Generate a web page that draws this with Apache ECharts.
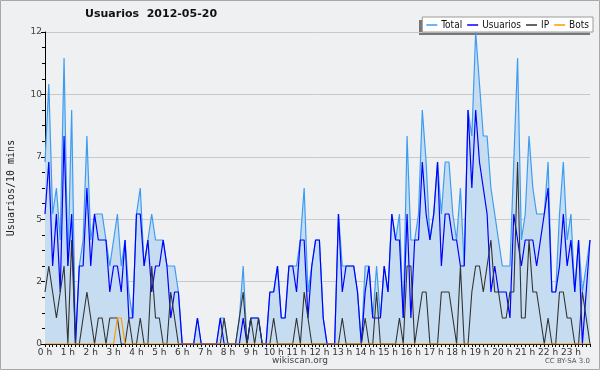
<!DOCTYPE html>
<html>
<head>
<meta charset="utf-8">
<script src="https://cdn.jsdelivr.net/npm/echarts@6/dist/echarts.min.js"></script>
<style>
html,body{margin:0;padding:0;background:#eff0f2;}
#chart{width:600px;height:370px;}
</style>
</head>
<body>
<div id="chart"></div>
<script>
// 10-minute slots, 2012-05-20
var hourLabels = ['0 h','1 h','2 h','3 h','4 h','5 h','6 h','7 h','8 h','9 h','10 h','11 h','12 h','13 h','14 h','15 h','16 h','17 h','18 h','19 h','20 h','21 h','22 h','23 h'];
var categories = [];
for (var h = 0; h < 24; h++) { for (var m = 0; m < 6; m++) { categories.push(h + ':' + m + '0'); } }

var total = [
  7,10,5,6,4,11,3,9,0,3,4,8,4,5,5,5,4,3,4,5,3,4,2,1,5,6,3,4,5,4,4,4,3,3,3,2,
  0,0,0,0,1,0,0,0,0,0,1,1,0,0,0,1,3,0,1,1,1,0,0,
  2,2,3,1,1,3,3,3,4,6,2,3,4,4,1,0,
  0,0,5,3,3,3,3,2,0,3,3,1,3,1,3,2,
  5,4,5,1,8,4,4,5,9,7, 4,5,7,5,7,7,5,4,6,3, 9,8,12,10,8,8,6,5,4,3,
  3,3,7,11,4,5,8,6,5,5, 5,7,2,2,5,7,4,5,2,4, 2,3,4
];
var usuarios = [
  5,7,3,5,2,8,3,5,0,3,3,6,3,5,4,4,4,2,3,3,2,4,1,1,5,5,3,4,2,3,3,4,3,1,2,2,
  0,0,0,0,1,0,0,0,0,0,1,0,0,0,0,0,1,0,1,1,1,0,0,
  2,2,3,1,1,3,3,2,4,4,1,3,4,4,1,0,
  0,0,5,2,3,3,3,2,0,2,3,1,1,1,3,2,
  5,4,4,1,5,1,4,4,7,5, 4,5,7,3,5,5,4,4,3,3, 9,6,9,7,6,5,2,3,2,2,
  2,1,5,4,3,4,4,4,3,4, 5,6,2,2,3,5,3,4,2,4, 0,2,4
];
var ip = [
  2,3,2,1,2,3,0,4,0,0,1,2,1,0,1,1,0,1,1,1,0,0,1,0,0,1,0,0,3,1,1,0,0,2,1,0,
  0,0,0,0,0,0,0,0,0,0,0,1,0,0,0,1,2,0,1,0,1,0,0,
  0,1,0,0,0,0,0,1,0,2,1,0,0,0,0,0,
  0,0,0,1,0,0,0,0,0,1,0,0,2,0,0,0,
  0,0,1,0,3,3,0,1,2,2, 0,0,0,2,2,2,1,0,3,0, 0,2,3,3,2,3,4,2,2,1,
  1,2,2,7,1,1,4,2,2,1, 0,1,0,0,2,2,1,1,0,0, 2,1,0
];
var bots = [
  0,0,0,0,0,0,0,0,0,0,0,0,0,0,0,0,0,0,0,1,1,0,0,0,0,0,0,0,0,0,0,0,0,0,0,0,
  0,0,0,0,0,0,0,0,0,0,0,0,0,0,0,0,0,0,0,0,0,0,0,
  0,0,0,0,0,0,0,0,0,0,0,0,0,0,0,0,
  0,0,0,0,0,0,0,0,0,0,0,0,0,0,0,0,
  0,0,0,0,0,0,0,0,0,0, 0,0,0,0,0,0,0,0,0,0, 0,0,0,0,0,0,0,0,0,0,
  0,0,0,0,0,0,0,0,0,0, 0,0,0,0,0,0,0,0,0,0, 0,0,0
];
var yTicks = [0, 2.4, 4.8, 7.2, 9.6, 12];

var FONT = "'DejaVu Sans', sans-serif";
var chart = echarts.init(document.getElementById('chart'), null, {renderer: 'canvas'});
chart.setOption({
  backgroundColor: '#eff0f2',
  animation: false,
  title: {
    text: 'Usuarios  2012-05-20',
    left: 85, top: 9, padding: 0,
    textStyle: {fontFamily: FONT, fontSize: 11, fontWeight: 'bold', color: '#111'}
  },
  legend: {
    data: ['Total', 'Usuarios', 'IP', 'Bots'],
    right: 7, top: 17,
    padding: [3, 4, 2, 4],
    itemGap: 5,
    itemWidth: 11, itemHeight: 1.5,
    icon: 'rect',
    backgroundColor: '#ffffff',
    borderColor: '#9a9a9a', borderWidth: 1,
    textStyle: {fontFamily: "'DejaVu Sans Condensed', 'DejaVu Sans', sans-serif", fontSize: 10, color: '#111', padding: [0, 0, 0, -1]}
  },
  grid: {left: 45, right: 10, top: 32, bottom: 26, containLabel: false},
  xAxis: {
    type: 'category',
    data: categories,
    boundaryGap: false,
    axisLine: {lineStyle: {color: '#000', width: 1}},
    axisTick: {show: true, interval: 0, length: 3, lineStyle: {color: '#000'}},
    axisLabel: {
      interval: function (i) { return i % 6 === 0; },
      formatter: function (v, i) { return hourLabels[i / 6]; },
      fontFamily: FONT, fontSize: 9, color: '#333', margin: 4
    },
    splitLine: {show: false}
  },
  yAxis: {
    type: 'value',
    min: yTicks[0], max: yTicks[yTicks.length - 1], interval: yTicks[1],
    axisLine: {show: true, lineStyle: {color: '#000', width: 1}},
    axisTick: {show: true, length: 4, lineStyle: {color: '#000'}},
    minorTick: {show: true, splitNumber: 4, length: 3, lineStyle: {color: '#000'}},
    axisLabel: {
      formatter: function (v) { return String(Math.round(v)); },
      fontFamily: FONT, fontSize: 9, color: '#444', margin: 3
    },
    splitLine: {show: true, lineStyle: {color: '#c8c9cc', width: 1}}
  },
  series: [
    {name: 'Total', type: 'line', data: total, symbol: 'none', color: '#3d9cf2',
     lineStyle: {color: '#3d9cf2', width: 1.2}, areaStyle: {color: '#c6ddf1', opacity: 1}, z: 2},
    {name: 'Usuarios', type: 'line', data: usuarios, symbol: 'none', color: '#0000ff',
     lineStyle: {color: '#0000ff', width: 1.2}, z: 3},
    {name: 'IP', type: 'line', data: ip, symbol: 'none', color: '#333333',
     lineStyle: {color: '#333333', width: 1.1}, z: 4},
    {name: 'Bots', type: 'line', data: bots, symbol: 'none', color: '#ff9900',
     lineStyle: {color: '#ff9900', width: 1.2}, z: 5}
  ],
  graphic: [
    {type: 'rect', z: -1, shape: {x: 0.5, y: 0.5, width: 599, height: 369},
     style: {fill: 'none', stroke: '#a8a8a8', lineWidth: 1}},
    {type: 'rect', z: 0, shape: {x: 419, y: 20, width: 171, height: 15},
     style: {fill: '#777777'}},
    {type: 'text', x: 11, y: 188, rotation: Math.PI / 2,
     style: {text: 'Usuarios/10 mins', font: "10px 'DejaVu Sans Mono', monospace", fill: '#222',
             textAlign: 'center', textVerticalAlign: 'middle'}},
    {type: 'text', x: 300, y: 361,
     style: {text: 'wikiscan.org', font: "9px 'DejaVu Sans', sans-serif", fill: '#444',
             textAlign: 'center', textVerticalAlign: 'middle'}},
    {type: 'text', x: 590, y: 361,
     style: {text: 'CC BY-SA 3.0', font: "7px 'DejaVu Sans', sans-serif", fill: '#555',
             textAlign: 'right', textVerticalAlign: 'middle'}}
  ]
});
</script>
</body>
</html>
